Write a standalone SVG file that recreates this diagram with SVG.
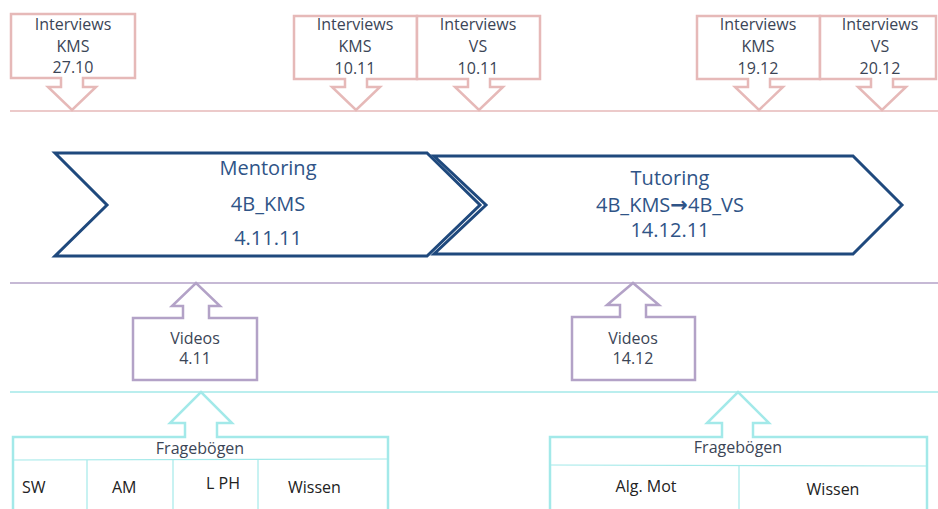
<svg xmlns="http://www.w3.org/2000/svg" width="938" height="509" viewBox="0 0 938 509">
  <style>
    .pink { fill: #ffffff; stroke: #e6b9b8; stroke-width: 2.5; stroke-linejoin: miter; }
    .violet { fill: #ffffff; stroke: #b3a2c7; stroke-width: 2.5; }
    .cyan { fill: #ffffff; stroke: #a3e9e9; stroke-width: 2.5; }
    .cyanthin { fill: none; stroke: #a3e9e9; stroke-width: 1.2; }
    .chev { fill: #ffffff; stroke: #1f497d; stroke-width: 3; stroke-linejoin: miter; }
    .lbl { font-family: "Open Sans", "Liberation Sans", sans-serif; font-size: 16px; fill: #3b4556; text-anchor: middle; }
    .cell { font-family: "Open Sans", "Liberation Sans", sans-serif; font-size: 16px; fill: #222222; }
    .big { font-family: "Open Sans", "Liberation Sans", sans-serif; font-size: 20px; fill: #2f5487; text-anchor: middle; }
    .arr { font-family: "DejaVu Sans", sans-serif; font-weight: bold; font-size: 21px; }
  </style>

  <!-- timeline rules -->
  <g id="rules">
    <line x1="10" y1="111" x2="938" y2="111" stroke="#e6b9b8" stroke-width="1.5"/>
    <line x1="10" y1="283" x2="938" y2="283" stroke="#b3a2c7" stroke-width="1.5"/>
    <line x1="10" y1="392" x2="938" y2="392" stroke="#a3e9e9" stroke-width="1.5"/>
  </g>

  <!-- interview callouts pointing down -->
  <g id="interviews-kms-2710">
    <path class="pink" d="M11,14 H135 V78 H83 V87 H96 L72,110 L48,87 H61 V78 H11 Z"/>
    <text class="lbl" x="73" y="30">Interviews</text>
    <text class="lbl" x="73" y="52">KMS</text>
    <text class="lbl" x="73" y="73">27.10</text>
  </g>
  <g id="interviews-kms-1011">
    <path class="pink" d="M294,16 H417 V79 H367 V87 H380 L356,110 L332,87 H345 V79 H294 Z"/>
    <text class="lbl" x="355" y="30">Interviews</text>
    <text class="lbl" x="355" y="52">KMS</text>
    <text class="lbl" x="355" y="74">10.11</text>
  </g>
  <g id="interviews-vs-1011">
    <path class="pink" d="M417,16 H540 V79 H490 V87 H503 L479,110 L455,87 H468 V79 H417 Z"/>
    <text class="lbl" x="478" y="30">Interviews</text>
    <text class="lbl" x="478" y="52">VS</text>
    <text class="lbl" x="478" y="74">10.11</text>
  </g>
  <g id="interviews-kms-1912">
    <path class="pink" d="M697,16 H820 V79 H770 V87 H783 L759,110 L735,87 H748 V79 H697 Z"/>
    <text class="lbl" x="758" y="30">Interviews</text>
    <text class="lbl" x="758" y="52">KMS</text>
    <text class="lbl" x="758" y="74">19.12</text>
  </g>
  <g id="interviews-vs-2012">
    <path class="pink" d="M820,16 H936 V79 H893 V87 H906 L882,110 L858,87 H871 V79 H820 Z"/>
    <text class="lbl" x="880" y="30">Interviews</text>
    <text class="lbl" x="880" y="52">VS</text>
    <text class="lbl" x="880" y="74">20.12</text>
  </g>

  <!-- phase chevrons -->
  <g id="tutoring">
    <path class="chev" d="M434,156 H853 L902,205 L853,254 H434 L486,205 Z"/>
    <text class="big" x="670" y="185">Tutoring</text>
    <text class="big" x="670" y="212">4B_KMS<tspan class="arr">→</tspan>4B_VS</text>
    <text class="big" x="670" y="237">14.12.11</text>
  </g>
  <g id="mentoring">
    <path class="chev" d="M55,153 H427 L480,205 L427,256 H55 L107,205 Z"/>
    <text class="big" x="268" y="175" font-size="21">Mentoring</text>
    <text class="big" x="268" y="211" font-size="21">4B_KMS</text>
    <text class="big" x="268" y="245" font-size="21">4.11.11</text>
  </g>

  <!-- video callouts pointing up -->
  <g id="videos-411">
    <path class="violet" d="M133,318 H183 V306 H172 L196,283 L220,306 H209 V318 H257 V380 H133 Z"/>
    <text class="lbl" x="195" y="344">Videos</text>
    <text class="lbl" x="195" y="364">4.11</text>
  </g>
  <g id="videos-1412">
    <path class="violet" d="M572,317 H620 V305 H607 L633,283 L659,305 H646 V317 H695 V380 H572 Z"/>
    <text class="lbl" x="633" y="344">Videos</text>
    <text class="lbl" x="633" y="364">14.12</text>
  </g>

  <!-- questionnaire tables -->
  <g id="frageboegen-1">
    <path class="cyan" d="M13,520 V437 H185 V423 H170 L201,392 L232,423 H217 V437 H388 V520"/>
    <line class="cyanthin" x1="13" y1="460" x2="388" y2="459"/>
    <line class="cyanthin" x1="87" y1="460" x2="87" y2="509"/>
    <line class="cyanthin" x1="173" y1="460" x2="173" y2="509"/>
    <line class="cyanthin" x1="258" y1="459" x2="258" y2="509"/>
    <text class="lbl" x="200" y="454">Fragebögen</text>
    <text class="cell" x="22" y="493">SW</text>
    <text class="cell" x="112" y="493">AM</text>
    <text class="cell" x="206" y="489">L PH</text>
    <text class="cell" x="288" y="493">Wissen</text>
  </g>
  <g id="frageboegen-2">
    <path class="cyan" d="M550,520 V437 H722 V423 H707 L738,392 L769,423 H753 V437 H927 V520"/>
    <line class="cyanthin" x1="550" y1="465" x2="927" y2="466"/>
    <line class="cyanthin" x1="739" y1="465" x2="739" y2="509"/>
    <text class="lbl" x="738" y="453">Fragebögen</text>
    <text class="cell" x="646" y="492" text-anchor="middle">Alg. Mot</text>
    <text class="cell" x="833" y="495" text-anchor="middle">Wissen</text>
  </g>
</svg>
